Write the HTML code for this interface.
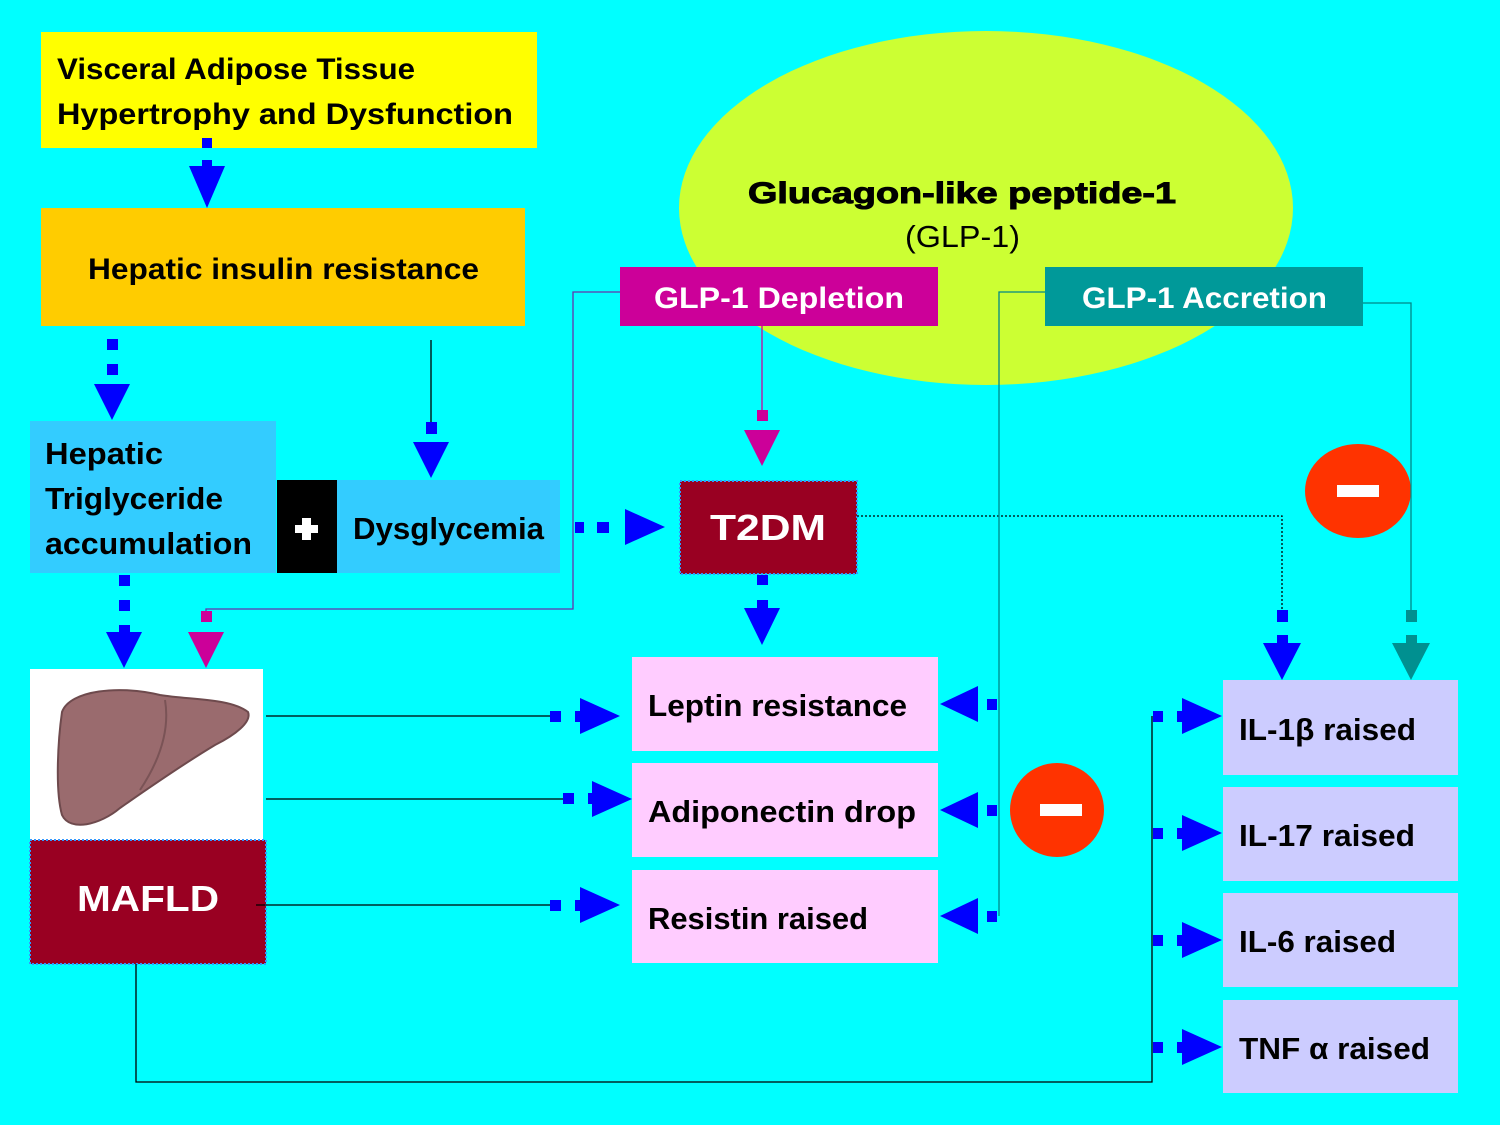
<!DOCTYPE html>
<html><head><meta charset="utf-8"><style>
html,body{margin:0;padding:0;background:#00ffff;}
svg{display:block}
text{font-family:"Liberation Sans",sans-serif;font-weight:bold;}
</style></head><body>
<svg width="1500" height="1125" viewBox="0 0 1500 1125" xmlns="http://www.w3.org/2000/svg">
<rect width="1500" height="1125" fill="#00ffff"/>
<!-- ellipse -->
<ellipse cx="986" cy="208" rx="307" ry="177" fill="#ccff33"/>
<text x="748" y="203" font-size="30" textLength="428" lengthAdjust="spacingAndGlyphs" fill="#000" stroke="#000" stroke-width="1">Glucagon-like peptide-1</text>
<text x="905" y="247" font-size="31" textLength="115" lengthAdjust="spacingAndGlyphs" style="font-weight:normal">(GLP-1)</text>

<!-- boxes -->
<rect x="41" y="32" width="496" height="116" fill="#ffff00"/>
<text x="57" y="79" font-size="30" textLength="358" lengthAdjust="spacingAndGlyphs">Visceral Adipose Tissue</text>
<text x="57" y="124" font-size="30" textLength="456" lengthAdjust="spacingAndGlyphs">Hypertrophy and Dysfunction</text>
<rect x="41" y="208" width="484" height="118" fill="#ffcc00"/>
<text x="88" y="279" font-size="30" textLength="391" lengthAdjust="spacingAndGlyphs">Hepatic insulin resistance</text>

<rect x="620" y="267" width="318" height="59" fill="#cc0099"/>
<text x="654" y="308" font-size="30" fill="#fff" textLength="250" lengthAdjust="spacingAndGlyphs">GLP-1 Depletion</text>
<rect x="1045" y="267" width="318" height="59" fill="#009999"/>
<text x="1082" y="308" font-size="30" fill="#fff" textLength="245" lengthAdjust="spacingAndGlyphs">GLP-1 Accretion</text>

<rect x="30" y="421" width="246" height="152" fill="#33ccff"/>
<text x="45" y="464" font-size="31" textLength="118" lengthAdjust="spacingAndGlyphs">Hepatic</text>
<text x="45" y="509" font-size="31" textLength="178" lengthAdjust="spacingAndGlyphs">Triglyceride</text>
<text x="45" y="554" font-size="31" textLength="207" lengthAdjust="spacingAndGlyphs">accumulation</text>
<rect x="277" y="480" width="60" height="93" fill="#000"/>
<rect x="302" y="518" width="9" height="22" fill="#fff"/><rect x="295" y="525" width="23" height="8" fill="#fff"/>
<rect x="337" y="480" width="223" height="93" fill="#33ccff"/>
<text x="353" y="539" font-size="31" textLength="191" lengthAdjust="spacingAndGlyphs">Dysglycemia</text>

<rect x="680" y="481" width="177" height="93" fill="#990022" stroke="#3399ff" stroke-width="2" stroke-dasharray="2,2"/>
<text x="710" y="540" font-size="36" fill="#fff" textLength="116" lengthAdjust="spacingAndGlyphs">T2DM</text>

<!-- liver -->
<rect x="30" y="669" width="233" height="171" fill="#fff"/>
<path d="M62 712 C70 690,120 685,160 695 C190 700,230 698,248 712 C252 722,235 735,215 745 C190 760,160 780,120 808 C100 825,70 832,62 815 C55 790,58 740,62 712Z" fill="#9a6b6e" stroke="#6e4a4d" stroke-width="2"/>
<path d="M165 700 C170 730,160 760,140 790" stroke="#7a5356" stroke-width="2" fill="none"/>
<rect x="30" y="840" width="236" height="124" fill="#990022" stroke="#3399ff" stroke-width="2" stroke-dasharray="2,2"/>
<text x="77" y="911" font-size="36" fill="#fff" textLength="142" lengthAdjust="spacingAndGlyphs">MAFLD</text>

<rect x="632" y="657" width="306" height="94" fill="#ffccff"/>
<text x="648" y="716" font-size="31" textLength="259" lengthAdjust="spacingAndGlyphs">Leptin resistance</text>
<rect x="632" y="763" width="306" height="94" fill="#ffccff"/>
<text x="648" y="822" font-size="31" textLength="268" lengthAdjust="spacingAndGlyphs">Adiponectin drop</text>
<rect x="632" y="870" width="306" height="93" fill="#ffccff"/>
<text x="648" y="929" font-size="31" textLength="220" lengthAdjust="spacingAndGlyphs">Resistin raised</text>

<rect x="1223" y="680" width="235" height="95" fill="#ccccff"/>
<text x="1239" y="740" font-size="31" textLength="177" lengthAdjust="spacingAndGlyphs">IL-1β raised</text>
<rect x="1223" y="787" width="235" height="94" fill="#ccccff"/>
<text x="1239" y="846" font-size="31" textLength="176" lengthAdjust="spacingAndGlyphs">IL-17 raised</text>
<rect x="1223" y="893" width="235" height="94" fill="#ccccff"/>
<text x="1239" y="952" font-size="31" textLength="157" lengthAdjust="spacingAndGlyphs">IL-6 raised</text>
<rect x="1223" y="1000" width="235" height="93" fill="#ccccff"/>
<text x="1239" y="1059" font-size="31" textLength="191" lengthAdjust="spacingAndGlyphs">TNF α raised</text>

<!-- minus circles -->
<ellipse cx="1358" cy="491" rx="53" ry="47" fill="#ff3300"/>
<rect x="1337" y="485" width="42" height="12" fill="#fff"/>
<ellipse cx="1057" cy="810" rx="47" ry="47" fill="#ff3300"/>
<rect x="1040" y="804" width="42" height="12" fill="#fff"/>

<!-- thin lines -->
<g fill="none" stroke-width="1.3">
<polyline points="431,340 431,422" stroke="#000"/>
<polyline points="620,292 573,292 573,609 206,609 206,612" stroke="#6633aa"/>
<polyline points="762,326 762,412" stroke="#cc0099"/>
<polyline points="857,516 1282,516 1282,612" stroke="#000" stroke-dasharray="2,2"/>
<polyline points="1363,303 1411,303 1411,612" stroke="#008888"/>
<polyline points="1045,292 999,292 999,916" stroke="#008888"/>
<polyline points="266,716 552,716" stroke="#000"/>
<polyline points="266,799 565,799" stroke="#000"/>
<polyline points="256,905 552,905" stroke="#000"/>
<polyline points="136,964 136,1082 1152,1082 1152,716" stroke="#000"/>
</g>

<!-- blue down arrows -->
<g fill="#0000ff">
<rect x="202" y="138" width="10" height="10"/><rect x="202" y="160" width="10" height="8"/><polygon points="189,166 225,166 207,208"/>
<rect x="107" y="339" width="11" height="11"/><rect x="107" y="364" width="11" height="11"/><polygon points="94,384 130,384 112,420"/>
<rect x="426" y="422" width="11" height="12"/><polygon points="413,442 449,442 431,478"/>
<rect x="119" y="575" width="11" height="11"/><rect x="119" y="600" width="11" height="11"/><rect x="119" y="625" width="11" height="10"/><polygon points="106,632 142,632 124,668"/>
<rect x="757" y="575" width="11" height="10"/><rect x="757" y="600" width="11" height="10"/><polygon points="744,608 780,608 762,645"/>
<rect x="1277" y="610" width="11" height="12"/><rect x="1277" y="635" width="11" height="10"/><polygon points="1263,643 1301,643 1282,680"/>
<!-- horizontal right -->
<rect x="575" y="522" width="9" height="11"/><rect x="597" y="522" width="12" height="11"/><polygon points="625,509 625,545 665,527"/>
<rect x="550" y="711" width="11" height="11"/><rect x="575" y="711" width="8" height="11"/><polygon points="580,698 580,734 620,716"/>
<rect x="563" y="793" width="11" height="11"/><rect x="588" y="793" width="8" height="11"/><polygon points="592,781 592,817 632,799"/>
<rect x="550" y="900" width="11" height="11"/><rect x="575" y="900" width="8" height="11"/><polygon points="580,887 580,923 620,905"/>
<rect x="1153" y="711" width="10" height="11"/><rect x="1177" y="711" width="8" height="11"/><polygon points="1182,698 1182,734 1222,716"/>
<rect x="1153" y="828" width="10" height="11"/><rect x="1177" y="828" width="8" height="11"/><polygon points="1182,815 1182,851 1222,833"/>
<rect x="1153" y="935" width="10" height="11"/><rect x="1177" y="935" width="8" height="11"/><polygon points="1182,922 1182,958 1222,940"/>
<rect x="1153" y="1042" width="10" height="11"/><rect x="1177" y="1042" width="8" height="11"/><polygon points="1182,1029 1182,1065 1222,1047"/>
<!-- left -->
<rect x="987" y="699" width="10" height="11"/><polygon points="978,686 978,722 940,704"/>
<rect x="987" y="805" width="10" height="11"/><polygon points="978,792 978,828 940,810"/>
<rect x="987" y="911" width="10" height="11"/><polygon points="978,898 978,934 940,916"/>
</g>
<g fill="#cc0099">
<rect x="201" y="611" width="11" height="11"/><polygon points="188,632 224,632 206,668"/>
<rect x="757" y="410" width="11" height="11"/><polygon points="744,430 780,430 762,466"/>
</g>
<g fill="#009090">
<rect x="1406" y="610" width="11" height="12"/><rect x="1406" y="635" width="11" height="10"/><polygon points="1392,643 1430,643 1411,680"/>
</g>
</svg>
</body></html>
